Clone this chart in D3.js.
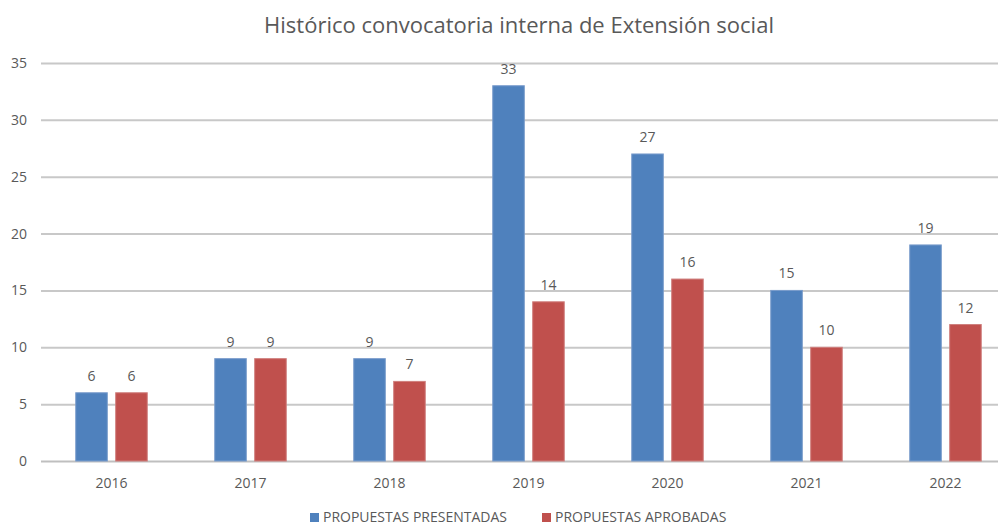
<!DOCTYPE html>
<html>
<head>
<meta charset="utf-8">
<script src="https://cdn.jsdelivr.net/npm/d3@7"></script>
<style>
  body { margin: 0; background: #fff; }
  text { font-family: "Open Sans", "Noto Sans", sans-serif; fill: #595959; }
</style>
</head>
<body>
<div id="chart"></div>
<script>
// data
var years = ['2016', '2017', '2018', '2019', '2020', '2021', '2022'];
var presentadas = [6, 9, 9, 33, 27, 15, 19];
var aprobadas = [6, 9, 7, 14, 16, 10, 12];
var seriesNames = ['PROPUESTAS PRESENTADAS', 'PROPUESTAS APROBADAS'];
var yTicks = [0, 5, 10, 15, 20, 25, 30, 35];

var width = 1000, height = 525;
var colors = ['#4F81BD', '#C0504D'];

var svg = d3.select('#chart')
  .append('svg')
  .attr('width', width)
  .attr('height', height);

// the last band runs past the right edge, as in the original
var x = d3.scaleBand()
  .domain(years)
  .range([42, 1015]);

var inner = d3.scaleBand()
  .domain([0, 1])
  .range([x.bandwidth() / 2 - 35.75, x.bandwidth() / 2 + 35.75])
  .paddingInner(0.21);

var y = d3.scaleLinear()
  .domain([0, 35])
  .range([461, 63]);

// title
svg.append('text')
  .attr('x', 519)
  .attr('y', 33)
  .attr('text-anchor', 'middle')
  .style('font-size', '22px')
  .text('Histórico convocatoria interna de Extensión social');

// gridlines
svg.append('g')
  .selectAll('line')
  .data(yTicks)
  .enter()
  .append('line')
  .attr('x1', 41)
  .attr('x2', 998)
  .attr('y1', function(d) { return y(d) + 0.5; })
  .attr('y2', function(d) { return y(d) + 0.5; })
  .style('stroke', function(d) { return d === 0 ? '#bfbfbf' : '#c8c8c8'; })
  .style('stroke-width', '2px');

// y axis labels
svg.append('g')
  .selectAll('text')
  .data(yTicks)
  .enter()
  .append('text')
  .attr('x', 27)
  .attr('y', function(d) { return y(d) + 5; })
  .attr('text-anchor', 'end')
  .style('font-size', '14px')
  .text(function(d) { return d; });

// x axis labels
svg.append('g')
  .selectAll('text')
  .data(years)
  .enter()
  .append('text')
  .attr('x', function(d) { return x(d) + x.bandwidth() / 2; })
  .attr('y', 488)
  .attr('text-anchor', 'middle')
  .style('font-size', '14px')
  .text(function(d) { return d; });

// bars
[presentadas, aprobadas].forEach(function(values, s) {
  var g = svg.append('g');

  g.selectAll('rect')
    .data(values)
    .enter()
    .append('rect')
    .attr('x', function(d, i) { return x(years[i]) + inner(s); })
    .attr('y', function(d) { return y(d); })
    .attr('width', inner.bandwidth())
    .attr('height', function(d) { return y(0) - y(d); })
    .style('fill', colors[s])
    .style('stroke', s === 0 ? '#7a9ccc' : '#cf7f7d')
    .style('stroke-width', '1px');

  g.selectAll('text')
    .data(values)
    .enter()
    .append('text')
    .attr('x', function(d, i) { return x(years[i]) + inner(s) + inner.bandwidth() / 2; })
    .attr('y', function(d) { return y(d) - 12; })
    .attr('text-anchor', 'middle')
    .style('font-size', '14px')
    .text(function(d) { return d; });
});

// legend
var legend = svg.append('g');
var legendX = [310, 542];
seriesNames.forEach(function(name, s) {
  legend.append('rect')
    .attr('x', legendX[s])
    .attr('y', 513)
    .attr('width', 9)
    .attr('height', 9)
    .style('fill', colors[s]);
  legend.append('text')
    .attr('x', legendX[s] + 13)
    .attr('y', 522)
    .style('font-size', '14px')
    .text(name);
});
</script>
</body>
</html>
